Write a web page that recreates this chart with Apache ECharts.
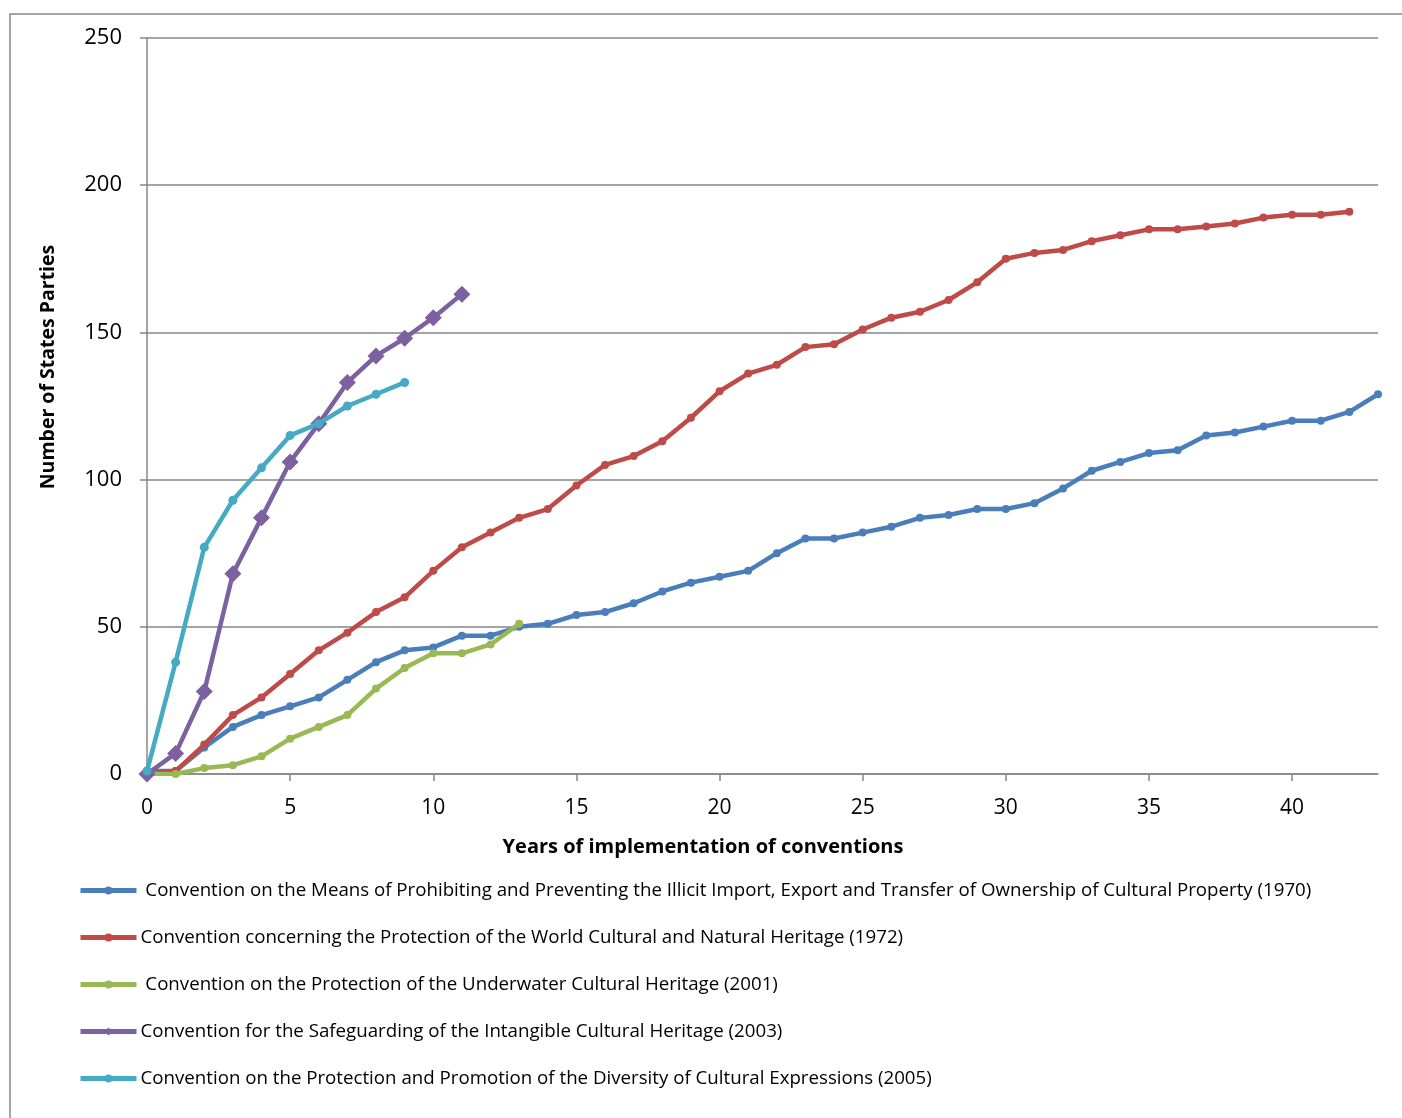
<!DOCTYPE html>
<html><head><meta charset="utf-8">
<script src="https://cdn.jsdelivr.net/npm/echarts@6/dist/echarts.min.js"></script>
<style>html,body{margin:0;padding:0;background:#fff}#c{width:1402px;height:1118px}</style>
</head><body><div id="c"></div>
<script>
const names = [
  ' Convention on the Means of Prohibiting and Preventing the Illicit Import, Export and Transfer of Ownership of Cultural Property (1970)',
  'Convention concerning the Protection of the World Cultural and Natural Heritage (1972)',
  ' Convention on the Protection of the Underwater Cultural Heritage (2001)',
  'Convention for the Safeguarding of the Intangible Cultural Heritage (2003)',
  'Convention on the Protection and Promotion of the Diversity of Cultural Expressions (2005)'
];
const colors = ['#4A7EBB', '#BE4B48', '#98B954', '#7D60A0', '#46AAC5'];
const c1970 = [1,1,9,16,20,23,26,32,38,42,43,47,47,50,51,54,55,58,62,65,67,69,75,80,80,82,84,87,88,90,90,92,97,103,106,109,110,115,116,118,120,120,123,129];
const c1972 = [0,1,10,20,26,34,42,48,55,60,69,77,82,87,90,98,105,108,113,121,130,136,139,145,146,151,155,157,161,167,175,177,178,181,183,185,185,186,187,189,190,190,191];
const c2001 = [0,0,2,3,6,12,16,20,29,36,41,41,44,51];
const c2003 = [0,7,28,68,87,106,119,133,142,148,155,163];
const c2005 = [1,38,77,93,104,115,119,125,129,133];
const yTicks = [0,50,100,150,200,250];
const xTicks = [0,5,10,15,20,25,30,35,40];
const xTitle = 'Years of implementation of conventions';
const yTitle = 'Number of States Parties';

const all = [c1970, c1972, c2001, c2003, c2005];
const symbols = ['circle','circle','circle','diamond','circle'];
const sizes = [8,8,8,17,9];
const font = 'Open Sans';

const chart = echarts.init(document.getElementById('c'));
chart.setOption({
  animation: false,
  color: colors,
  grid: {left: 147, right: 24, top: 38, bottom: 344, containLabel: false},
  xAxis: {
    type: 'value', min: 0, max: 43, interval: 5,
    axisLine: {show: true, lineStyle: {color: '#868686', width: 1.5}},
    axisTick: {show: true, length: 7, lineStyle: {color: '#868686', width: 1.5}},
    splitLine: {show: false},
    axisLabel: {color: '#000', fontSize: 21, fontFamily: font, margin: 24, showMaxLabel: false,
      formatter: v => xTicks.includes(v) ? String(v) : ''}
  },
  yAxis: {
    type: 'value', min: 0, max: 250, interval: 50,
    axisLine: {show: true, lineStyle: {color: '#868686', width: 1.5}},
    axisTick: {show: true, length: 7, lineStyle: {color: '#868686', width: 1.5}},
    splitLine: {show: true, lineStyle: {color: '#868686', width: 1.5}},
    axisLabel: {color: '#000', fontSize: 22, fontFamily: font, margin: 25,
      formatter: v => yTicks.includes(v) ? String(v) : ''}
  },
  legend: {
    orient: 'vertical', left: 73, top: 876, itemGap: 28, itemWidth: 56, itemHeight: 10,
    data: names,
    lineStyle: {width: 5},
    textStyle: {color: '#000', fontSize: 18.7, fontFamily: font, padding: [0,0,0,-1]}
  },
  graphic: [
    {type: 'rect', shape: {x: 10, y: 14, width: 1500, height: 1200}, style: {fill: 'none', stroke: '#868686', lineWidth: 1.5}, silent: true, z: -1},
    {type: 'text', x: 703, y: 847, style: {text: xTitle, fontSize: 20, fontWeight: 'bold', fontFamily: font, fill: '#000', align: 'center', verticalAlign: 'middle'}},
    {type: 'text', x: 48, y: 367, rotation: Math.PI/2, style: {text: yTitle, fontSize: 19.5, fontWeight: 'bold', fontFamily: font, fill: '#000', align: 'center', verticalAlign: 'middle'}}
  ],
  series: all.map((arr, i) => ({
    name: names[i], type: 'line',
    data: arr.map((v, k) => [k, v]),
    symbol: symbols[i], symbolSize: sizes[i], showSymbol: true,
    lineStyle: {width: 4.5, color: colors[i]},
    itemStyle: {color: colors[i]},
    z: 2 + i
  }))
});
</script></body></html>
